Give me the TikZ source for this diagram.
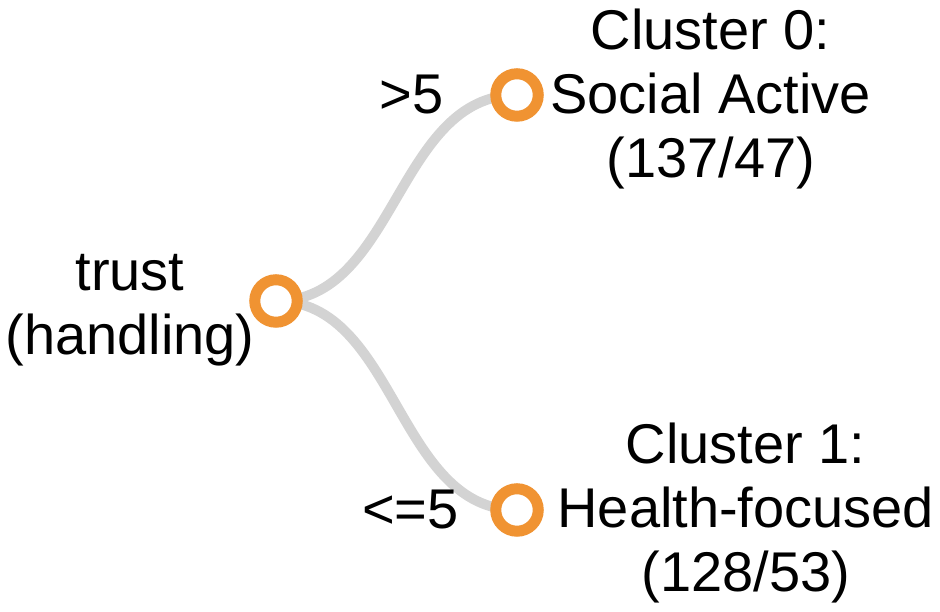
\documentclass[tikz,border=0pt]{standalone}
\usepackage{fontspec}
\setmainfont{Liberation Sans}
\usepackage{xcolor}
\usetikzlibrary{positioning,backgrounds}
\definecolor{splitorange}{RGB}{240,147,50}
\definecolor{branchgray}{RGB}{211,211,211}

\begin{document}
\begin{tikzpicture}[x=1pt,y=1pt,
    treenode/.style={circle,draw=splitorange,line width=11pt,fill=white,
      minimum size=42.5pt,inner sep=0pt,outer sep=0pt},
    branch/.style={draw=branchgray,line width=10pt},
    txt/.style={font=\fontsize{56}{64}\selectfont,inner sep=0pt,align=center}]
    \useasboundingbox (0,0) rectangle (940,612);
    % tree nodes
    \node[treenode] (root) at (276,311) {};
    \node[treenode] (c0) at (517,517) {};
    \node[treenode] (c1) at (517,102) {};
    % labels
    \node[txt,left=0pt of root,yshift=-9pt] (rootlbl) {trust\\(handling)};
    \node[txt,right=12pt of c0,yshift=-4pt] (c0lbl) {Cluster 0:\\Social Active\\(137/47)};
    \node[txt,right=19pt of c1,yshift=-3.5pt] (c1lbl) {Cluster 1:\\Health-focused\\(128/53)};
    \node[txt,left=52pt of c0] (gt) {>5};
    \node[txt,left=37pt of c1] (le) {<=5};
    % branches
    \begin{scope}[on background layer]
    \draw[branch] (root.center) .. controls +(120.5,0) and +(-120.5,0) .. (c0.center);
    \draw[branch] (root.center) .. controls +(120.5,0) and +(-120.5,0) .. (c1.center);
    \end{scope}
\end{tikzpicture}
\end{document}
